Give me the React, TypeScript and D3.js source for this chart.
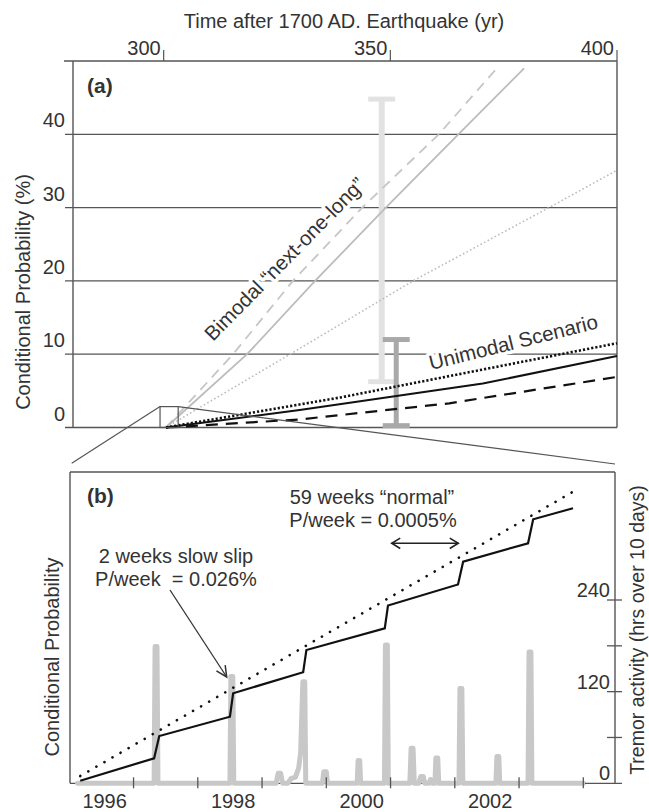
import React from "react";
import * as d3 from "d3";

// ---------- Panel (a) data ----------
const topTicks = [300, 350, 400];
const probTicks = [0, 10, 20, 30, 40];
const bimodalSolid: [number, number][] = [[300.5, 0], [318.4, 10], [333.4, 20], [349, 30], [365, 40], [379.5, 49]];
const bimodalDashed: [number, number][] = [[300.5, 0], [315.3, 10], [328.5, 20], [343.8, 30], [360.7, 40], [373.5, 49]];
const bimodalDotted: [number, number][] = [[300.5, 0], [327.9, 10], [355, 20], [385, 30], [400, 35.1]];
const unimodalSolid: [number, number][] = [[300.5, 0], [330, 2.4], [370.4, 6.0], [400, 9.75]];
const unimodalDotted: [number, number][] = [[300.5, 0], [339, 4.1], [400, 11.5]];
const unimodalDashed: [number, number][] = [[300.5, 0], [330, 1.1], [363, 3.3], [400, 6.9]];
const errorYears = [348.1, 351.3];
const errorLo = [6.25, 0.25];
const errorHi = [44.8, 12];
const zoomYears = [299.2, 303.2];
const zoomProb = [0, 2.85];

// ---------- Panel (b) data ----------
const yearTicks = [1997, 1998, 1999, 2000, 2001, 2002, 2003, 2004];
const yearLabels = [1996, 1998, 2000, 2002];
const stairProb: [number, number][] = [
  [1996.17, 0.84], [1997.32, 8.03], [1997.4, 15.19], [1998.5, 21.39], [1998.55, 28.91],
  [1999.64, 35.69], [1999.69, 42.82], [2000.91, 49.79], [2000.96, 57.11], [2002.05, 63.86],
  [2002.13, 71.19], [2003.14, 77.1], [2003.22, 84.81], [2003.84, 88.34],
];
const dottedProb: [number, number][] = [[1996.17, 2.34], [2003.84, 93.67]];
const tremor: [number, number][] = [
  [1996.13, 0], [1997.32, 0], [1997.335, 179], [1997.365, 179], [1997.38, 0],
  [1998.5, 0], [1998.515, 140], [1998.545, 140], [1998.56, 0],
  [1999.22, 0], [1999.25, 13], [1999.29, 13], [1999.32, 0],
  [1999.4, 0], [1999.45, 6], [1999.52, 8], [1999.57, 20], [1999.6, 40], [1999.635, 133], [1999.665, 133], [1999.68, 0],
  [1999.94, 0], [1999.96, 15], [2000.0, 15], [2000.02, 0],
  [2000.48, 0], [2000.495, 30], [2000.52, 30], [2000.535, 0],
  [2000.905, 0], [2000.92, 181], [2000.95, 181], [2000.965, 0],
  [2001.3, 0], [2001.32, 46], [2001.35, 46], [2001.37, 0],
  [2001.44, 0], [2001.47, 9], [2001.51, 9], [2001.53, 0],
  [2001.6, 0], [2001.62, 5], [2001.65, 0],
  [2001.69, 0], [2001.705, 33], [2001.735, 33], [2001.75, 0],
  [2002.065, 0], [2002.08, 124], [2002.11, 124], [2002.125, 0],
  [2002.64, 0], [2002.655, 35], [2002.685, 35], [2002.7, 0],
  [2003.14, 0], [2003.155, 172], [2003.185, 172], [2003.2, 0],
  [2004.0, 0],
];
const tremorTicks = [0, 60, 120, 180, 240];
const tremorLabels = [0, 120, 240];

const FONT = "'Liberation Sans', Arial, Helvetica, sans-serif";
const TXT = "#333";
const AX = "#555";

function arrowHead(x: number, y: number, ang: number, len = 11, spread = 0.45) {
  const a1 = ang + Math.PI - spread;
  const a2 = ang + Math.PI + spread;
  return `M${x + len * Math.cos(a1)},${y + len * Math.sin(a1)}L${x},${y}L${x + len * Math.cos(a2)},${y + len * Math.sin(a2)}`;
}

export default function App() {
  // scales panel a
  const xA = d3.scaleLinear().domain([280, 400]).range([73, 617]);
  const yA = d3.scaleLinear().domain([0, 40]).range([427.5, 134.3]);
  const lineA = d3.line<[number, number]>().x((d) => xA(d[0])).y((d) => yA(d[1]));
  // scales panel b
  const xB = d3.scaleLinear().domain([1996, 2004]).range([69.3, 583.3]);
  const yB = d3.scaleLinear().domain([0, 100]).range([783.3, 472]);
  const yT = d3.scaleLinear().domain([0, 240]).range([783.3, 600]);
  const lineB = d3.line<[number, number]>().x((d) => xB(d[0])).y((d) => yB(d[1]));
  const lineT = d3.line<[number, number]>().x((d) => xB(d[0])).y((d) => yT(d[1]));

  const aL = 73, aR = 617, aT = 61, aB = yA(0);
  const bL = 70, bR = 615, bT = 472, bB = 783.3;

  const zx0 = xA(zoomYears[0]), zx1 = xA(zoomYears[1]);
  const zy0 = yA(zoomProb[1]);

  // annotation arrow
  const ax0 = 170, ay0 = 590, ax1 = 226.7, ay1 = 677;
  const angArrow = Math.atan2(ay1 - ay0, ax1 - ax0);

  const halo = { paintOrder: "stroke" as const, stroke: "white", strokeWidth: 7, strokeLinejoin: "round" as const };

  return (
    <svg width={649} height={812} style={{ position: "absolute", left: 0, top: 0, background: "white" }} fontFamily={FONT}>
      <rect x={0} y={0} width={649} height={812} fill="white" />
      {/* ---------------- Panel (a) ---------------- */}
      <text x={344} y={28} fontSize={20} fill={TXT} textAnchor="middle">Time after 1700 AD. Earthquake (yr)</text>
      {topTicks.map((t) => (
        <g key={t}>
          <line x1={xA(t)} x2={xA(t)} y1={aT - 11} y2={aT} stroke={AX} strokeWidth={1.2} />
          <text x={xA(t) - 3} y={55} fontSize={20} fill={TXT} textAnchor="end">{t}</text>
        </g>
      ))}
      <line x1={64} x2={aR} y1={aT} y2={aT} stroke={AX} strokeWidth={1.4} />
      <line x1={aL} x2={aL} y1={aT} y2={aB} stroke={AX} strokeWidth={1.4} />
      <line x1={aR} x2={aR} y1={aT} y2={aB} stroke={AX} strokeWidth={1.4} />
      {probTicks.map((t) => (
        <g key={t}>
          <line x1={65} x2={aR} y1={yA(t)} y2={yA(t)} stroke={AX} strokeWidth={1.3} />
          <text x={65} y={yA(t) - 7} fontSize={20} fill={TXT} textAnchor="end">{t}</text>
        </g>
      ))}
      <text transform={`translate(30,292) rotate(-90)`} fontSize={20} fill={TXT} textAnchor="middle">Conditional Probability (%)</text>
      <text x={87} y={93} fontSize={21} fontWeight="bold" fill={TXT}>(a)</text>

      {/* error bars */}
      {errorYears.map((yr, i) => {
        const col = i === 0 ? "#e2e2e2" : "#a9a9a9";
        const w = i === 0 ? 6 : 5;
        const x = xA(yr);
        return (
          <g key={i}>
            <line x1={x} x2={x} y1={yA(errorLo[i])} y2={yA(errorHi[i])} stroke={col} strokeWidth={w} />
            <line x1={x - 13.5} x2={x + 13.5} y1={yA(errorLo[i])} y2={yA(errorLo[i])} stroke={col} strokeWidth={5} />
            <line x1={x - 13.5} x2={x + 13.5} y1={yA(errorHi[i])} y2={yA(errorHi[i])} stroke={col} strokeWidth={5} />
          </g>
        );
      })}

      {/* text labels with halos (break gridlines) */}
      <text transform={`translate(213,342) rotate(-45.5)`} fontSize={20.5} fill={TXT} style={halo}>Bimodal “next-one-long”</text>

      {/* bimodal grey lines */}
      <path d={lineA(bimodalDotted) || ""} fill="none" stroke="#bdbdbd" strokeWidth={1.6} strokeDasharray="1.6 2.4" />
      <path d={lineA(bimodalDashed) || ""} fill="none" stroke="#c6c6c6" strokeWidth={1.8} strokeDasharray="10 7" />
      <path d={lineA(bimodalSolid) || ""} fill="none" stroke="#bcbcbc" strokeWidth={1.8} />

      <text transform={`translate(431,370) rotate(-14)`} fontSize={20.5} fill={TXT} style={halo}>Unimodal Scenario</text>

      {/* unimodal black lines */}
      <path d={lineA(unimodalDashed) || ""} fill="none" stroke="#111" strokeWidth={2.2} strokeDasharray="12 8" />
      <path d={lineA(unimodalDotted) || ""} fill="none" stroke="#111" strokeWidth={2.6} strokeDasharray="2.2 2" />
      <path d={lineA(unimodalSolid) || ""} fill="none" stroke="#111" strokeWidth={2} />

      {/* zoom box and connector lines */}
      <rect x={zx0} y={zy0} width={zx1 - zx0} height={aB - zy0} fill="none" stroke={AX} strokeWidth={1.2} />
      <line x1={zx0} y1={zy0} x2={71.7} y2={463.3} stroke={AX} strokeWidth={1.2} />
      <line x1={zx1} y1={zy0} x2={615} y2={464} stroke={AX} strokeWidth={1.2} />

      {/* ---------------- Panel (b) ---------------- */}
      <line x1={bL} x2={bR} y1={bT} y2={bT} stroke={AX} strokeWidth={1.4} />
      <line x1={bL} x2={bL} y1={bT} y2={bB} stroke={AX} strokeWidth={1.4} />
      <line x1={bR} x2={bR} y1={bT} y2={bB} stroke={AX} strokeWidth={1.4} />
      <line x1={bL} x2={xB(2004)} y1={bB} y2={bB} stroke={AX} strokeWidth={1.2} />

      <path d={lineT(tremor) || ""} fill="none" stroke="#c8c8c8" strokeWidth={5} strokeLinejoin="round" strokeLinecap="round" />

      {yearTicks.map((t) => (
        <line key={t} x1={xB(t)} x2={xB(t)} y1={bB - 6} y2={bB + 5} stroke={AX} strokeWidth={1.3} />
      ))}
      {yearLabels.map((t) => (
        <text key={t} x={xB(t + 0.55)} y={808} fontSize={20} fill={TXT} textAnchor="middle">{t}</text>
      ))}

      {tremorTicks.map((t) => (
        <line key={t} x1={t === 0 ? 585 : bR - 8} x2={bR + 7} y1={yT(t)} y2={yT(t)} stroke={AX} strokeWidth={1.3} />
      ))}
      {tremorLabels.map((t) => (
        <text key={t} x={610} y={yT(t) - 3} fontSize={20} fill={TXT} textAnchor="end">{t}</text>
      ))}
      <text transform={`translate(644,630) rotate(-90)`} fontSize={19.5} fill={TXT} textAnchor="middle">Tremor activity (hrs over 10 days)</text>
      <text transform={`translate(59,657) rotate(-90)`} fontSize={20} fill={TXT} textAnchor="middle">Conditional Probability</text>

      <path d={lineB(dottedProb) || ""} fill="none" stroke="#111" strokeWidth={2.6} strokeDasharray="0.1 9.2" strokeLinecap="round" />
      <path d={lineB(stairProb) || ""} fill="none" stroke="#111" strokeWidth={2.2} strokeLinejoin="miter" />

      <text x={87} y={503} fontSize={21} fontWeight="bold" fill={TXT}>(b)</text>
      <text x={372} y={504} fontSize={20} fill={TXT} textAnchor="middle">59 weeks “normal”</text>
      <text x={373} y={527} fontSize={20} fill={TXT} textAnchor="middle">P/week = 0.0005%</text>
      <line x1={391.7} x2={458.3} y1={543.3} y2={543.3} stroke="#222" strokeWidth={1.6} />
      <path d={arrowHead(458.3, 543.3, 0, 10, 0.55)} fill="none" stroke="#222" strokeWidth={1.6} />
      <path d={arrowHead(391.7, 543.3, Math.PI, 10, 0.55)} fill="none" stroke="#222" strokeWidth={1.6} />

      <text x={176} y={563} fontSize={20} fill={TXT} textAnchor="middle">2 weeks slow slip</text>
      <text x={176} y={586} fontSize={20} fill={TXT} textAnchor="middle" style={{ whiteSpace: "pre" }}>{"P/week  = 0.026%"}</text>
      <line x1={ax0} y1={ay0} x2={ax1} y2={ay1} stroke="#333" strokeWidth={1.3} />
      <path d={arrowHead(ax1, ay1, angArrow, 12, 0.45)} fill="none" stroke="#333" strokeWidth={1.5} />
    </svg>
  );
}
